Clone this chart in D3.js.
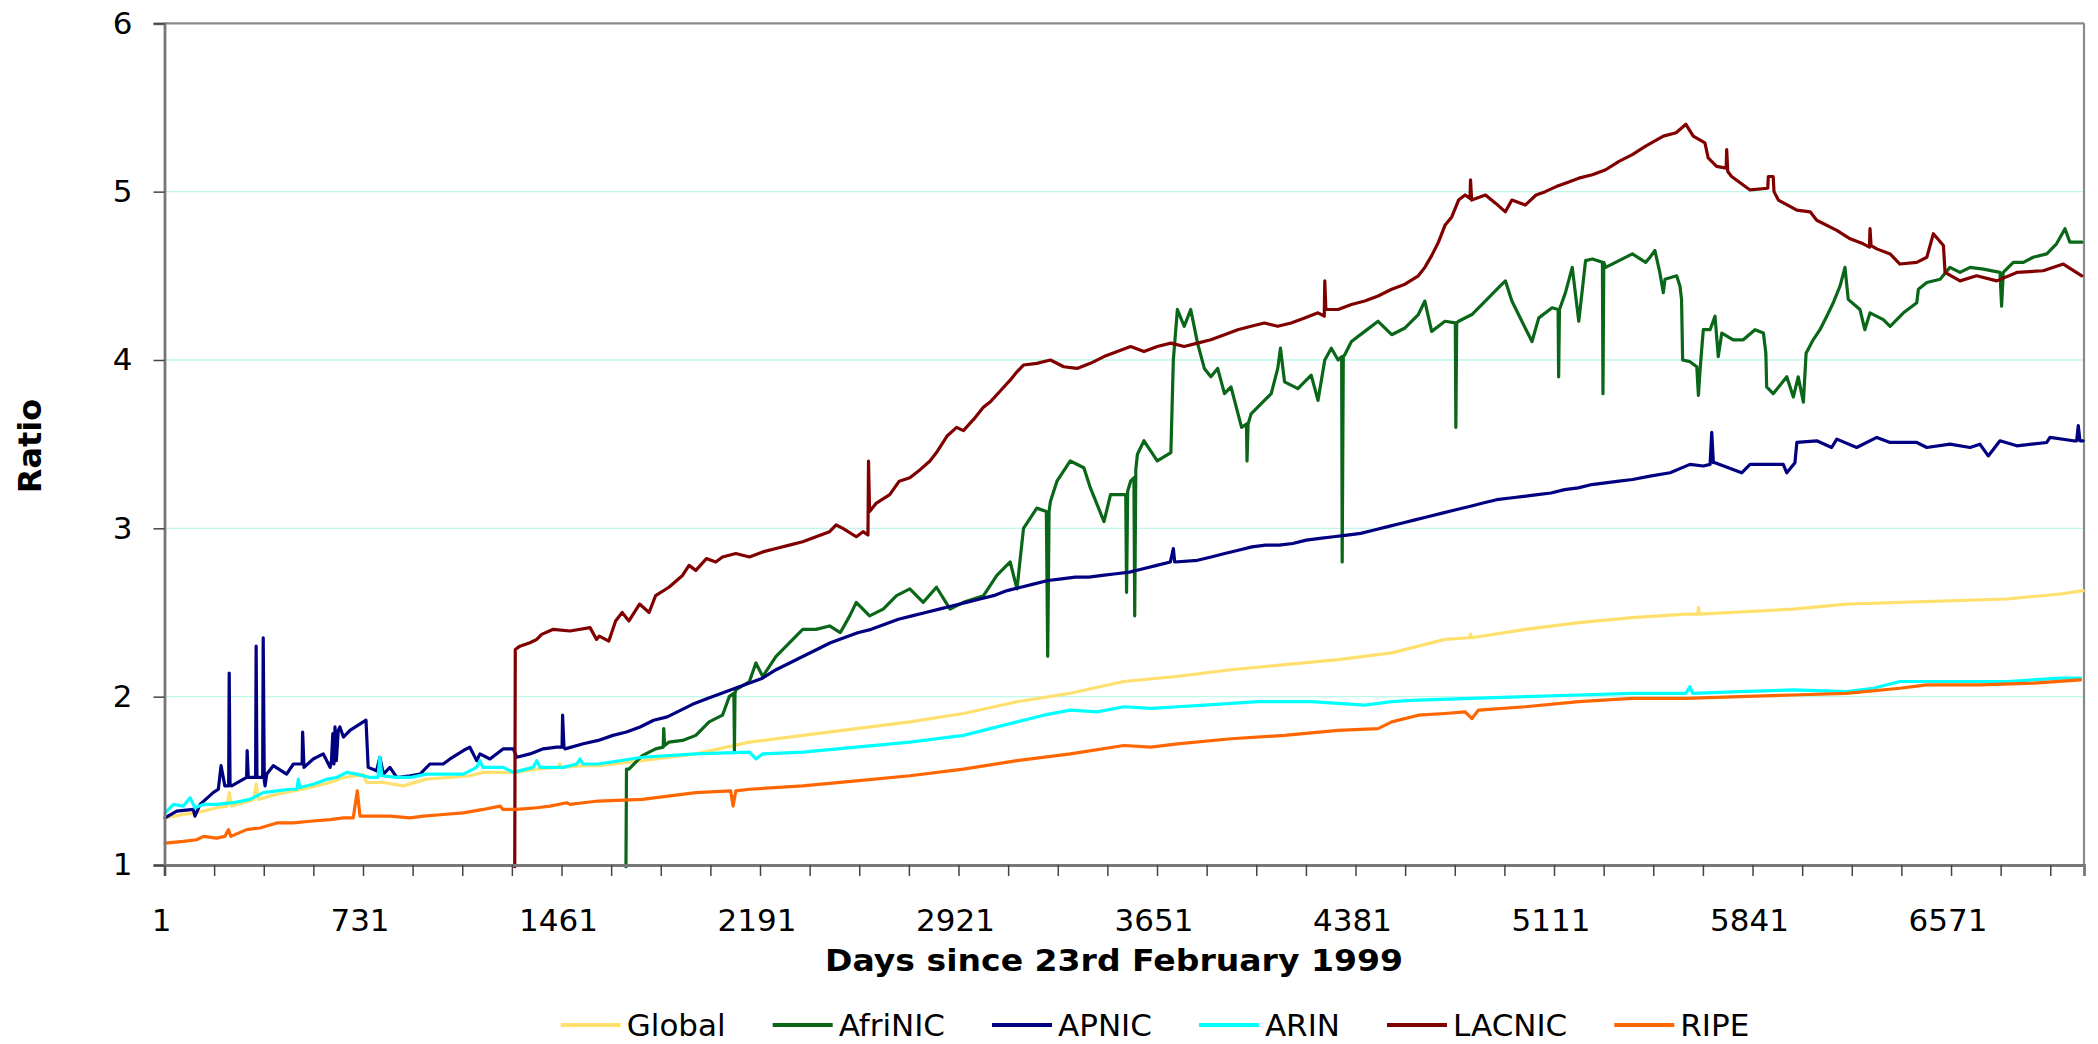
<!DOCTYPE html>
<html>
<head>
<meta charset="utf-8">
<script src="https://cdn.jsdelivr.net/npm/d3@7"></script>
<style>
  html, body { margin: 0; padding: 0; background: #ffffff; }
  svg { display: block; }
  text { font-family: "DejaVu Sans", Verdana, sans-serif; fill: #000; }
</style>
</head>
<body>
<svg id="chart" width="2098" height="1044"></svg>
<script>
// ---------------- DATA ----------------
const seriesNames = ["Global", "AfriNIC", "APNIC", "ARIN", "LACNIC", "RIPE"];
const seriesColors = ["#FFE06E", "#0A6618", "#000080", "#00FFFF", "#800000", "#FF6600"];
const xTickLabels = [1, 731, 1461, 2191, 2921, 3651, 4381, 5111, 5841, 6571];
const yTickLabels = [1, 2, 3, 4, 5, 6];
const xDomain = [1, 7060];

const globalData = [[3,1.28],[70,1.30],[119,1.31],[193,1.34],[231,1.35],[239,1.43],[248,1.35],[315,1.38],[330,1.39],[338,1.48],[346,1.39],[414,1.42],[475,1.44],[536,1.46],[610,1.49],[659,1.52],[708,1.53],[731,1.54],[745,1.49],[806,1.49],[879,1.47],[965,1.51],[1051,1.52],[1124,1.53],[1173,1.55],[1247,1.55],[1296,1.55],[1370,1.57],[1448,1.58],[1455,1.60],[1460,1.58],[1541,1.59],[1596,1.59],[1758,1.62],[1955,1.66],[2152,1.73],[2348,1.77],[2545,1.81],[2742,1.85],[2939,1.90],[3136,1.97],[3332,2.02],[3529,2.09],[3726,2.12],[3923,2.16],[4120,2.19],[4317,2.22],[4514,2.26],[4612,2.30],[4710,2.34],[4800,2.35],[4804,2.37],[4809,2.35],[5005,2.40],[5202,2.44],[5399,2.47],[5596,2.49],[5640,2.49],[5642,2.53],[5646,2.49],[5990,2.52],[6186,2.55],[6383,2.56],[6777,2.58],[6974,2.61],[7057,2.63]];

const afrinicData = [[1698,0.99],[1700,1.57],[1709,1.57],[1758,1.65],[1807,1.69],[1835,1.70],[1837,1.81],[1840,1.71],[1856,1.73],[1906,1.74],[1955,1.77],[2004,1.85],[2053,1.89],[2078,2.00],[2095,2.02],[2097,1.68],[2099,2.02],[2102,2.04],[2152,2.09],[2176,2.20],[2201,2.12],[2250,2.24],[2299,2.32],[2348,2.40],[2397,2.40],[2447,2.42],[2486,2.38],[2521,2.48],[2545,2.56],[2594,2.48],[2644,2.52],[2693,2.60],[2742,2.64],[2791,2.56],[2840,2.65],[2890,2.52],[2939,2.56],[3013,2.60],[3062,2.72],[3111,2.80],[3136,2.64],[3160,3.00],[3209,3.12],[3244,3.10],[3249,2.24],[3254,3.10],[3259,3.16],[3283,3.28],[3332,3.40],[3382,3.36],[3406,3.24],[3456,3.04],[3480,3.20],[3536,3.20],[3539,2.62],[3543,3.22],[3554,3.28],[3566,3.30],[3569,2.48],[3573,3.35],[3579,3.44],[3603,3.52],[3652,3.40],[3702,3.45],[3711,4.00],[3726,4.30],[3751,4.20],[3775,4.30],[3800,4.10],[3825,3.95],[3849,3.90],[3874,3.95],[3899,3.80],[3923,3.84],[3962,3.60],[3980,3.62],[3982,3.40],[3986,3.62],[3997,3.68],[4046,3.76],[4071,3.80],[4095,3.95],[4105,4.07],[4120,3.87],[4169,3.83],[4218,3.91],[4243,3.76],[4268,4.00],[4292,4.07],[4317,4.00],[4330,4.02],[4332,2.80],[4336,4.02],[4341,4.03],[4366,4.11],[4415,4.17],[4464,4.23],[4514,4.15],[4563,4.19],[4612,4.27],[4636,4.35],[4661,4.17],[4710,4.23],[4748,4.22],[4750,3.60],[4753,4.22],[4760,4.23],[4809,4.27],[4858,4.35],[4907,4.43],[4932,4.47],[4956,4.35],[5005,4.19],[5030,4.11],[5055,4.25],[5104,4.31],[5126,4.30],[5128,3.90],[5131,4.30],[5153,4.40],[5178,4.55],[5202,4.23],[5227,4.59],[5252,4.60],[5289,4.58],[5291,3.80],[5294,4.58],[5301,4.55],[5350,4.59],[5399,4.63],[5448,4.58],[5464,4.61],[5482,4.65],[5500,4.52],[5513,4.40],[5519,4.48],[5562,4.50],[5574,4.44],[5580,4.36],[5584,4.00],[5611,3.99],[5636,3.96],[5642,3.79],[5648,3.94],[5660,4.18],[5685,4.18],[5703,4.26],[5715,4.02],[5728,4.16],[5770,4.12],[5807,4.12],[5850,4.18],[5881,4.16],[5890,4.04],[5893,3.84],[5917,3.80],[5967,3.90],[5991,3.78],[6009,3.90],[6028,3.75],[6038,4.04],[6064,4.12],[6089,4.18],[6114,4.26],[6138,4.34],[6163,4.44],[6181,4.55],[6193,4.36],[6236,4.30],[6254,4.18],[6273,4.28],[6322,4.24],[6347,4.20],[6396,4.28],[6445,4.34],[6451,4.42],[6482,4.46],[6531,4.48],[6567,4.55],[6604,4.52],[6641,4.55],[6690,4.54],[6751,4.52],[6757,4.32],[6763,4.52],[6800,4.58],[6837,4.58],[6873,4.61],[6923,4.63],[6959,4.69],[6990,4.78],[7008,4.70],[7052,4.70]];

const apnicData = [[3,1.28],[46,1.32],[107,1.33],[113,1.29],[132,1.36],[180,1.43],[199,1.45],[209,1.59],[223,1.47],[237,1.47],[239,2.14],[242,1.48],[248,1.47],[303,1.52],[305,1.68],[309,1.52],[336,1.52],[338,2.30],[341,1.52],[346,1.52],[362,1.52],[364,2.35],[368,1.50],[371,1.47],[377,1.54],[401,1.59],[450,1.54],[475,1.60],[507,1.60],[509,1.79],[514,1.58],[548,1.63],[585,1.66],[610,1.58],[615,1.62],[620,1.78],[624,1.60],[628,1.82],[633,1.62],[640,1.80],[646,1.82],[659,1.76],[683,1.80],[732,1.85],[742,1.86],[750,1.58],[781,1.56],[793,1.64],[806,1.54],[830,1.58],[855,1.52],[904,1.53],[941,1.54],[977,1.60],[1026,1.60],[1051,1.63],[1100,1.68],[1124,1.70],[1149,1.62],[1161,1.66],[1198,1.63],[1247,1.69],[1284,1.69],[1296,1.64],[1345,1.66],[1394,1.69],[1443,1.70],[1463,1.70],[1465,1.89],[1470,1.70],[1474,1.69],[1541,1.72],[1596,1.74],[1650,1.77],[1700,1.79],[1750,1.82],[1800,1.86],[1850,1.88],[1900,1.92],[1950,1.96],[2000,1.99],[2050,2.02],[2100,2.05],[2150,2.08],[2200,2.11],[2250,2.16],[2300,2.20],[2350,2.24],[2400,2.28],[2450,2.32],[2500,2.35],[2550,2.38],[2600,2.40],[2650,2.43],[2700,2.46],[2750,2.48],[2800,2.50],[2850,2.52],[2900,2.54],[2950,2.56],[3000,2.58],[3050,2.60],[3100,2.63],[3150,2.65],[3200,2.67],[3250,2.69],[3300,2.70],[3350,2.71],[3400,2.71],[3450,2.72],[3500,2.73],[3550,2.74],[3600,2.76],[3650,2.78],[3700,2.80],[3711,2.88],[3716,2.80],[3800,2.81],[3850,2.83],[3900,2.85],[3950,2.87],[4000,2.89],[4050,2.90],[4100,2.90],[4150,2.91],[4200,2.93],[4250,2.94],[4300,2.95],[4350,2.96],[4400,2.97],[4450,2.99],[4500,3.01],[4550,3.03],[4600,3.05],[4650,3.07],[4700,3.09],[4750,3.11],[4800,3.13],[4850,3.15],[4900,3.17],[4950,3.18],[5000,3.19],[5050,3.20],[5100,3.21],[5150,3.23],[5200,3.24],[5250,3.26],[5300,3.27],[5350,3.28],[5400,3.29],[5464,3.31],[5538,3.33],[5611,3.38],[5660,3.37],[5685,3.38],[5691,3.57],[5697,3.39],[5703,3.39],[5801,3.33],[5832,3.38],[5954,3.38],[5967,3.33],[5997,3.39],[6004,3.51],[6077,3.52],[6132,3.48],[6151,3.53],[6224,3.48],[6298,3.54],[6347,3.51],[6445,3.51],[6482,3.48],[6567,3.50],[6641,3.48],[6677,3.50],[6708,3.43],[6751,3.52],[6813,3.49],[6923,3.51],[6935,3.54],[7021,3.52],[7033,3.52],[7039,3.61],[7045,3.52],[7057,3.52]];

const arinData = [[3,1.31],[34,1.36],[70,1.35],[95,1.40],[113,1.34],[144,1.36],[193,1.36],[254,1.37],[315,1.39],[364,1.43],[414,1.44],[463,1.45],[488,1.45],[493,1.51],[499,1.46],[548,1.48],[598,1.51],[634,1.52],[671,1.55],[708,1.54],[757,1.52],[786,1.52],[793,1.64],[800,1.53],[855,1.52],[904,1.52],[965,1.54],[1026,1.54],[1100,1.54],[1149,1.58],[1161,1.62],[1172,1.58],[1247,1.58],[1284,1.55],[1357,1.58],[1370,1.62],[1382,1.58],[1468,1.58],[1517,1.60],[1529,1.63],[1540,1.60],[1596,1.60],[1758,1.64],[1955,1.66],[2152,1.67],[2176,1.63],[2201,1.66],[2348,1.67],[2545,1.70],[2742,1.73],[2939,1.77],[3136,1.85],[3234,1.89],[3332,1.92],[3431,1.91],[3529,1.94],[3628,1.93],[3726,1.94],[3825,1.95],[4021,1.97],[4218,1.97],[4415,1.95],[4514,1.97],[4612,1.98],[4809,1.99],[5005,2.00],[5202,2.01],[5399,2.02],[5596,2.02],[5611,2.06],[5620,2.02],[5793,2.03],[5990,2.04],[6186,2.03],[6285,2.05],[6383,2.09],[6580,2.09],[6777,2.09],[6974,2.11],[7047,2.11]];

const lacnicData = [[1289,0.99],[1291,2.28],[1308,2.30],[1345,2.32],[1370,2.34],[1388,2.37],[1431,2.40],[1492,2.39],[1566,2.41],[1590,2.34],[1600,2.36],[1635,2.33],[1660,2.45],[1684,2.50],[1709,2.45],[1748,2.55],[1783,2.50],[1807,2.60],[1856,2.65],[1906,2.72],[1930,2.78],[1955,2.75],[1994,2.82],[2028,2.80],[2053,2.83],[2102,2.85],[2152,2.83],[2201,2.86],[2250,2.88],[2299,2.90],[2348,2.92],[2397,2.95],[2447,2.98],[2471,3.02],[2496,3.00],[2545,2.95],[2570,2.98],[2588,2.96],[2590,3.40],[2594,3.10],[2619,3.15],[2668,3.20],[2703,3.28],[2742,3.30],[2781,3.35],[2816,3.40],[2840,3.45],[2880,3.55],[2914,3.60],[2939,3.58],[2978,3.65],[3013,3.72],[3037,3.75],[3077,3.82],[3111,3.88],[3136,3.93],[3160,3.97],[3209,3.98],[3259,4.00],[3308,3.96],[3357,3.95],[3406,3.98],[3456,4.02],[3505,4.05],[3554,4.08],[3603,4.05],[3652,4.08],[3702,4.10],[3751,4.08],[3800,4.10],[3849,4.12],[3899,4.15],[3948,4.18],[3997,4.20],[4046,4.22],[4095,4.20],[4144,4.22],[4194,4.25],[4243,4.28],[4266,4.26],[4268,4.47],[4272,4.30],[4317,4.30],[4366,4.33],[4415,4.35],[4464,4.38],[4514,4.42],[4563,4.45],[4612,4.50],[4636,4.55],[4661,4.62],[4686,4.70],[4710,4.80],[4735,4.85],[4760,4.95],[4784,4.98],[4802,4.96],[4804,5.07],[4808,4.95],[4859,4.98],[4897,4.93],[4932,4.88],[4956,4.95],[5005,4.92],[5045,4.98],[5079,5.00],[5119,5.03],[5153,5.05],[5202,5.08],[5252,5.10],[5301,5.13],[5350,5.18],[5399,5.22],[5448,5.27],[5513,5.33],[5560,5.35],[5596,5.40],[5623,5.33],[5666,5.29],[5678,5.20],[5709,5.15],[5744,5.14],[5746,5.25],[5750,5.12],[5764,5.09],[5832,5.01],[5897,5.02],[5899,5.09],[5917,5.09],[5920,5.00],[5936,4.95],[6004,4.89],[6053,4.88],[6077,4.83],[6151,4.77],[6200,4.72],[6248,4.69],[6271,4.67],[6273,4.78],[6277,4.68],[6298,4.66],[6347,4.63],[6383,4.57],[6445,4.58],[6482,4.61],[6506,4.75],[6543,4.68],[6549,4.52],[6604,4.47],[6665,4.50],[6739,4.47],[6813,4.52],[6910,4.53],[6984,4.57],[7052,4.50]];

const ripeData = [[3,1.13],[70,1.14],[119,1.15],[144,1.17],[193,1.16],[223,1.17],[236,1.21],[245,1.17],[303,1.21],[352,1.22],[414,1.25],[475,1.25],[536,1.26],[610,1.27],[659,1.28],[695,1.28],[710,1.44],[720,1.29],[781,1.29],[830,1.29],[904,1.28],[953,1.29],[1026,1.30],[1100,1.31],[1173,1.33],[1235,1.35],[1246,1.33],[1296,1.33],[1370,1.34],[1419,1.35],[1480,1.37],[1492,1.36],[1541,1.37],[1596,1.38],[1758,1.39],[1955,1.43],[2083,1.44],[2092,1.35],[2102,1.44],[2152,1.45],[2348,1.47],[2545,1.50],[2742,1.53],[2939,1.57],[3136,1.62],[3332,1.66],[3529,1.71],[3628,1.70],[3726,1.72],[3923,1.75],[4120,1.77],[4317,1.80],[4464,1.81],[4514,1.85],[4612,1.89],[4710,1.90],[4784,1.91],[4809,1.87],[4833,1.92],[5005,1.94],[5202,1.97],[5399,1.99],[5596,1.99],[5793,2.00],[5990,2.01],[6186,2.02],[6383,2.05],[6481,2.07],[6678,2.07],[6875,2.08],[7047,2.10]];

const allSeries = [globalData, afrinicData, apnicData, arinData, lacnicData, ripeData];

// ---------------- LAYOUT ----------------
const plot = { left: 164.5, right: 2084, top: 23.3, bottom: 865 };
const svg = d3.select("#chart");
svg.append("rect").attr("width", 2098).attr("height", 1044).attr("fill", "#ffffff");

const x = d3.scaleLinear().domain(xDomain).range([plot.left, plot.right]);
const y = d3.scaleLinear().domain([1, 6]).range([plot.bottom, plot.top]);

// gridlines
svg.append("g")
  .selectAll("line")
  .data(yTickLabels.filter(v => v > 1 && v < 6))
  .join("line")
  .attr("x1", plot.left).attr("x2", plot.right)
  .attr("y1", d => y(d)).attr("y2", d => y(d))
  .attr("stroke", "#bff7ea").attr("stroke-width", 1.3);

// frame top/right
svg.append("line").attr("x1", plot.left).attr("x2", plot.right).attr("y1", plot.top).attr("y2", plot.top)
  .attr("stroke", "#8a8a8a").attr("stroke-width", 2.2);
svg.append("line").attr("x1", plot.right).attr("x2", plot.right).attr("y1", plot.top).attr("y2", plot.bottom)
  .attr("stroke", "#8a8a8a").attr("stroke-width", 2.2);

// series
const line = d3.line().x(d => x(d[0])).y(d => y(d[1]));
svg.append("g")
  .selectAll("path")
  .data(allSeries)
  .join("path")
  .attr("d", d => line(d))
  .attr("fill", "none")
  .attr("stroke", (d, i) => seriesColors[i])
  .attr("stroke-width", 3.2)
  .attr("stroke-linejoin", "round")
  .attr("stroke-linecap", "round");

// Y axis
const yAxis = d3.axisLeft(y).tickValues(yTickLabels).tickSize(11).tickPadding(21).tickFormat(d3.format("d"));
const gy = svg.append("g").attr("transform", `translate(${plot.left},0)`).call(yAxis);
gy.select(".domain").attr("stroke", "#777").attr("stroke-width", 2.8);
gy.selectAll(".tick line").attr("stroke", "#444").attr("stroke-width", 1.5);
gy.selectAll(".tick text").style("font-size", "31px").style("font-family", "'DejaVu Sans', Verdana, sans-serif").attr("fill", "#000");

// X axis
const xTicks = d3.range(0, 39).map(k => 1 + 182.5 * k);
const xAxis = d3.axisBottom(x).tickValues(xTicks).tickSize(11).tickPadding(0)
  .tickFormat(() => "");
const gx = svg.append("g").attr("transform", `translate(0,${plot.bottom})`).call(xAxis);
gx.select(".domain").attr("stroke", "#777").attr("stroke-width", 2.8);
gx.selectAll(".tick line").attr("stroke", "#444").attr("stroke-width", 1.5);

svg.append("g").selectAll("text")
  .data(xTickLabels)
  .join("text")
  .attr("x", d => x(d) - 3)
  .attr("y", 931)
  .attr("text-anchor", "middle")
  .style("font-size", "31px")
  .text(d => d);

// axis titles
svg.append("text")
  .attr("x", 1114).attr("y", 971)
  .attr("text-anchor", "middle")
  .attr("textLength", 578).attr("lengthAdjust", "spacingAndGlyphs")
  .style("font-size", "31px").style("font-weight", "bold")
  .text("Days since 23rd February 1999");

svg.append("text")
  .attr("transform", "translate(41,446) rotate(-90)")
  .attr("text-anchor", "middle")
  .style("font-size", "32px").style("font-weight", "bold")
  .text("Ratio");

// legend
const legend = svg.append("g");
const items = legend.selectAll("g").data(seriesNames).join("g");
items.append("line")
  .attr("x1", 0).attr("x2", 60).attr("y1", 0).attr("y2", 0)
  .attr("stroke", (d, i) => seriesColors[i]).attr("stroke-width", 4);
items.append("text")
  .attr("x", 66).attr("y", 11)
  .style("font-size", "31px")
  .text(d => d);
let cx = 0;
const offsets = [];
items.each(function () {
  const w = d3.select(this).select("text").node().getComputedTextLength();
  offsets.push(cx);
  cx += 66 + w + 47;
});
const total = cx - 47;
const startX = 1155 - total / 2;
items.attr("transform", (d, i) => `translate(${startX + offsets[i]},1025)`);
</script>
</body>
</html>
